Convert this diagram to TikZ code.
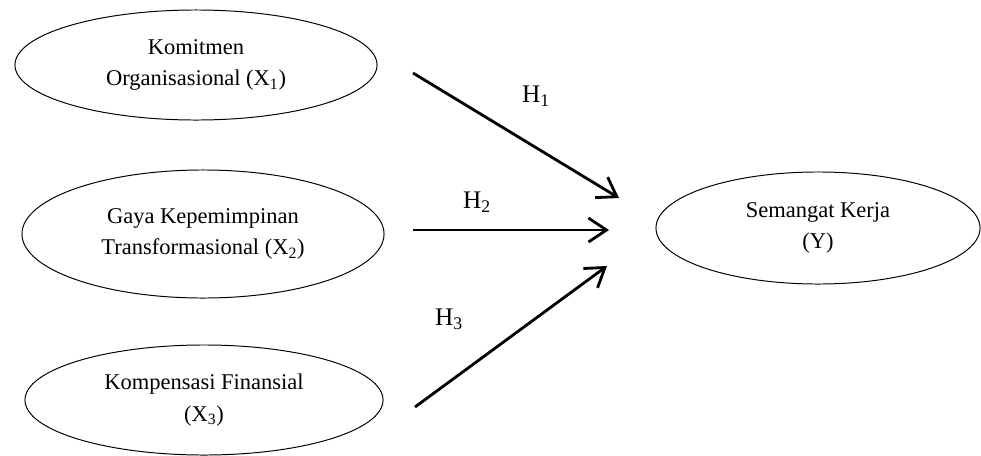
\documentclass[tikz,border=0pt]{standalone}
\usepackage{fontspec}
\setmainfont{Liberation Serif}
\usepackage{tikz}
\usetikzlibrary{arrows.meta, shapes.geometric}

\begin{document}
\begin{tikzpicture}[x=0.025cm, y=-0.025cm,
    var/.style={draw, ellipse, line width=0.7pt, inner sep=0pt, align=center,
                font=\fontsize{16}{22.5}\selectfont},
    hyp/.style={->, line width=2pt, >={Straight Barb[length=4.5mm, width=6mm, line width=2pt]}},
    lab/.style={font=\fontsize{18}{20}\selectfont}]
    \useasboundingbox (0,0) rectangle (981,455);

    % 自变量
    \node[var, minimum width=9.05cm, minimum height=2.75cm] (komitmen) at (196,65)
        {Komitmen\\Organisasional (X\textsubscript{1})};
    \node[var, minimum width=9.05cm, minimum height=3.2cm] (gaya) at (203,234)
        {Gaya Kepemimpinan\\Transformasional (X\textsubscript{2})};
    \node[var, minimum width=8.95cm, minimum height=2.75cm] (kompensasi) at (204,400)
        {Kompensasi Finansial\\(X\textsubscript{3})};

    % 因变量
    \node[var, minimum width=8.1cm, minimum height=2.8cm] (semangat) at (818,228)
        {Semangat Kerja\\(Y)};

    % 箭头端点
    \coordinate (a1) at (413,73);
    \coordinate (b1) at (619,198);
    \coordinate (a2) at (413,230);
    \coordinate (b2) at (609,230);
    \coordinate (a3) at (415,407);
    \coordinate (b3) at (607,266);

    % 假设
    \draw[hyp] (a1) -- (b1);
    \draw[hyp] (a2) -- (b2);
    \draw[hyp] (a3) -- (b3);
    \node[lab] (h1) at (536,96) {H\textsubscript{1}};
    \node[lab] (h2) at (477,202) {H\textsubscript{2}};
    \node[lab] (h3) at (449,319) {H\textsubscript{3}};
\end{tikzpicture}
\end{document}
